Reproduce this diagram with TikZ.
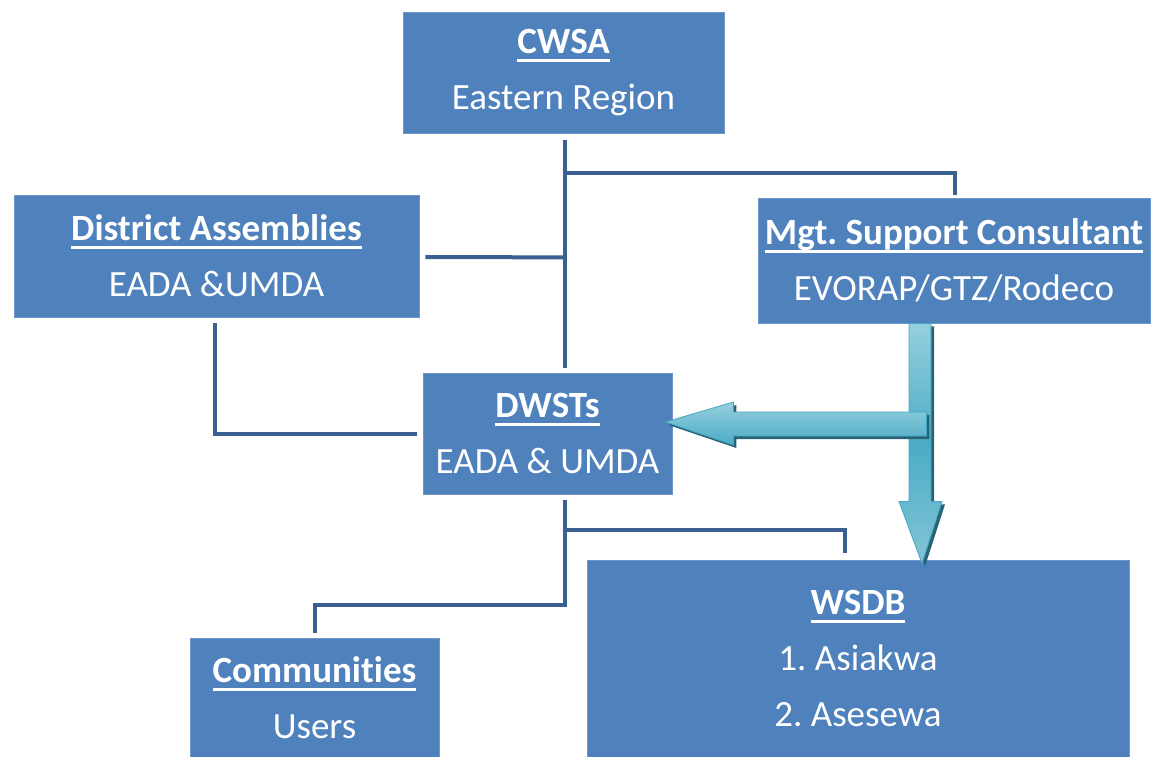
\documentclass[tikz,border=0pt]{standalone}
\usepackage{fontspec}
\setmainfont[Ligatures=NoCommon]{Carlito}
\usetikzlibrary{calc}
\definecolor{boxblue}{RGB}{79,129,189}
\definecolor{boxedge}{RGB}{110,150,200}
\definecolor{linkblue}{RGB}{58,96,145}
\definecolor{tealA}{RGB}{150,208,222}
\definecolor{tealB}{RGB}{75,172,198}
\definecolor{tealC}{RGB}{130,196,214}
\definecolor{tealShadow}{RGB}{40,100,118}
\definecolor{tealEdge}{RGB}{70,165,195}
\tikzset{
  orgbox/.style={rectangle, fill=boxblue, draw=boxedge, line width=0.8pt, inner sep=0pt,
    text=white, align=center, font=\fontsize{37}{56}\selectfont\frenchspacing},
  link/.style={draw=linkblue, line width=4pt},
  arrowshadow/.style={fill=tealShadow},
  bigarrowv/.style={top color=tealA, bottom color=tealC, middle color=tealB, draw=tealEdge, line width=0.8pt},
  bigarrowh/.style={top color=tealA, bottom color=tealB, draw=tealEdge, line width=0.8pt}
}
\newcommand{\hd}[1]{\setbox0\hbox{\textbf{#1}}\rlap{\vrule width\wd0 height -5.5pt depth 8.3pt}\box0}
\begin{document}
\begin{tikzpicture}[x=1pt,y=-1pt]
\useasboundingbox (0,0) rectangle (1151,757);

\node[orgbox, minimum width=321pt, minimum height=121pt] (cwsa) at (563.5,72.5) {\hd{CWSA}\\Eastern Region};
\node[orgbox, minimum width=405pt, minimum height=122pt] (da) at (216.5,256) {\hd{District Assemblies}\\EADA \&UMDA};
\node[orgbox, minimum width=392pt, minimum height=125pt] (mgt) at (954,260.5) {\hd{Mgt. Support Consultant}\\EVORAP/GTZ/Rodeco};
\node[orgbox, minimum width=249pt, minimum height=121pt] (dwst) at (547.5,433.5) {\hd{DWSTs}\\EADA \& UMDA};
\node[orgbox, minimum width=249pt, minimum height=119pt] (comm) at (314.5,697.5) {\hd{Communities}\\Users};
\node[orgbox, minimum width=542pt, minimum height=197pt] (wsdb) at (858,658.5) {\hd{WSDB}\\1. Asiakwa\\2. Asesewa};

% connectors
\coordinate (jtop) at ($(cwsa.south)+(1.5,40)$);
\coordinate (jda) at ($(cwsa.south)+(1.5,124)$);
\draw[link] ($(cwsa.south)+(1.5,7)$) -- ($(dwst.north)+(17.5,-5)$);
\draw[link] (jtop) -| ($(mgt.north)+(1,-3)$);
\draw[link] ($(da.east)+(6,1)$) -- (jda);
\draw[link] ($(da.south)+(-1.5,6)$) |- ($(dwst.west)+(-6,0.5)$);

\coordinate (jdw1) at ($(dwst.south)+(17.5,36)$);
\coordinate (jdw2) at ($(dwst.south)+(17.5,111)$);
\draw[link] ($(dwst.south)+(17.5,6)$) -- (jdw2) -| ($(comm.north)+(0.5,-5)$);
\draw[link] (jdw1) -| ($(wsdb.north)+(-13,-7)$);

% big arrows
\coordinate (vtop) at ($(mgt.south)+(-34,0)$);
\coordinate (hstart) at ($(dwst.east)+(254,-21.5)$);
\fill[arrowshadow] ($(vtop)+(-8,3)$) -- ++(22,0) -- ++(0,178) -- ++(11,0) -- ++(-20,62) -- ++(-23,-62) -- ++(10,0) -- cycle;
\path[bigarrowv] ($(vtop)+(-11,0)$) -- ++(22,0) -- ++(0,178) -- ++(11,0) -- ++(-20,62) -- ++(-23,-62) -- ++(10,0) -- cycle;
\fill[arrowshadow] ($(hstart)+(3,3)$) -- ++(0,24) -- ++(-193,0) -- ++(0,9) -- ++(-68,-23) -- ++(68,-20) -- ++(0,10) -- cycle;
\path[bigarrowh] (hstart) -- ++(0,24) -- ++(-193,0) -- ++(0,9) -- ++(-68,-23) -- ++(68,-20) -- ++(0,10) -- cycle;
\end{tikzpicture}
\end{document}
